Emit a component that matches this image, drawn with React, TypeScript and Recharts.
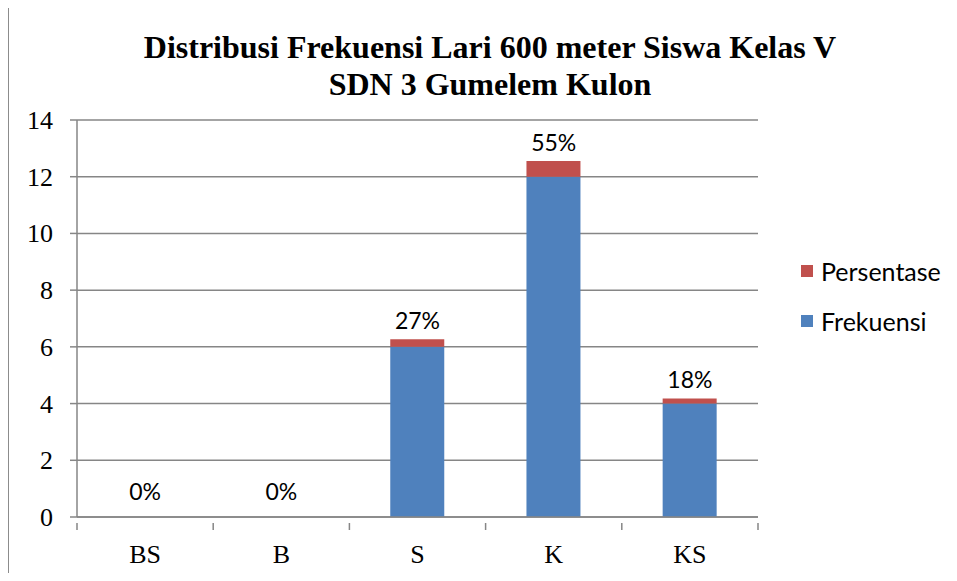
import { Bar, ComposedChart, CartesianGrid, LabelList, Legend, Line, XAxis, YAxis } from 'recharts';

const categories = ['BS', 'B', 'S', 'K', 'KS'];
const frekuensi = [0, 0, 6, 12, 4];
const persentase = [0, 0, 0.27, 0.55, 0.18];
const percentLabels = ['0%', '0%', '27%', '55%', '18%'];
const yTicks = [0, 2, 4, 6, 8, 10, 12, 14];

const data = categories.map((name, i) => ({
  name,
  frekuensi: frekuensi[i],
  persentase: persentase[i],
  total: frekuensi[i] + persentase[i],
  label: percentLabels[i],
}));

const BLUE = '#4F81BD';
const RED = '#C0504D';
const GRID = '#868686';
const SANS = "Lato, 'Open Sans', sans-serif";
const SERIF = "'Liberation Serif', serif";

const W = 940;
const H = 565;
const LEGEND_W = 150;
const M = { top: 112, right: 191 - LEGEND_W, bottom: 16, left: 8 };
const Y_AXIS_W = 60;
const BAND = (W - 8 - 191 - Y_AXIS_W) / categories.length;
const X_TICK_MARGIN = 18;

// x axis ticks sit on category boundaries, like Excel
function XTick(props: any) {
  const { x, y, payload, index } = props;
  const axisY = y - X_TICK_MARGIN;
  const left = payload.coordinate - BAND / 2;
  return (
    <g>
      <line x1={left} x2={left} y1={axisY} y2={axisY + 7} stroke={GRID} strokeWidth={1.5} />
      {index === categories.length - 1 && (
        <line x1={left + BAND} x2={left + BAND} y1={axisY} y2={axisY + 7} stroke={GRID} strokeWidth={1.5} />
      )}
      <text x={x} y={axisY + 40} textAnchor="middle" fill="#000" fontSize={26} fontFamily={SERIF}>
        {payload.value}
      </text>
    </g>
  );
}

function YTick(props: any) {
  const { x, y, payload } = props;
  return (
    <text x={x} y={y + 9} textAnchor="end" fill="#000" fontSize={26} fontFamily={SERIF}>
      {payload.value}
    </text>
  );
}

function PctLabel(props: any) {
  const { x, y, value, index } = props;
  const lift = data[index] && data[index].total === 0 ? 17 : 10;
  return (
    <text x={x} y={y - lift} textAnchor="middle" fill="#000" fontSize={23} fontFamily={SANS}>
      {value}
    </text>
  );
}

function LegendBox() {
  const items = [
    { name: 'Persentase', color: RED },
    { name: 'Frekuensi', color: BLUE },
  ];
  return (
    <div>
      {items.map((it) => (
        <div key={it.name} style={{ display: 'flex', alignItems: 'center', height: 50 }}>
          <span style={{ width: 12, height: 12, background: it.color, marginRight: 8 }} />
          <span style={{ fontSize: 25, fontFamily: SANS, color: '#000' }}>{it.name}</span>
        </div>
      ))}
    </div>
  );
}

export default function App() {
  return (
    <div
      style={{
        position: 'relative',
        width: W,
        height: H,
        marginTop: -1,
        borderLeft: '1.5px solid #8c8c8c',
        borderTop: '1.5px solid #8c8c8c',
        background: '#fff',
      }}
    >
      <div
        style={{
          position: 'absolute',
          left: 0,
          top: 21,
          width: 962,
          textAlign: 'center',
          fontFamily: SERIF,
          fontWeight: 'bold',
          fontSize: 32,
          lineHeight: '37px',
          color: '#000',
        }}
      >
        Distribusi Frekuensi Lari 600 meter Siswa Kelas V
        <br />
        SDN 3 Gumelem Kulon
      </div>
      <ComposedChart width={W} height={H} data={data} margin={M} barCategoryGap="30%">
        <CartesianGrid vertical={false} stroke={GRID} strokeWidth={1.5} />
        <XAxis
          dataKey="name"
          height={40}
          stroke={GRID}
          strokeWidth={1.5}
          tickLine={false}
          tickMargin={X_TICK_MARGIN}
          tick={<XTick />}
          interval={0}
        />
        <YAxis
          width={Y_AXIS_W}
          domain={[0, 14]}
          ticks={yTicks}
          stroke={GRID}
          strokeWidth={1.5}
          tickSize={7}
          tickMargin={17}
          tick={<YTick />}
          interval={0}
        />
        <Legend
          layout="vertical"
          align="right"
          verticalAlign="top"
          content={<LegendBox />}
          wrapperStyle={{ left: 792, top: 238, width: LEGEND_W }}
        />
        <Bar dataKey="frekuensi" stackId="a" fill={BLUE} isAnimationActive={false} name="Frekuensi" />
        <Bar dataKey="persentase" stackId="a" fill={RED} isAnimationActive={false} name="Persentase" />
        <Line
          dataKey="total"
          stroke="none"
          dot={false}
          activeDot={false}
          legendType="none"
          isAnimationActive={false}
        >
          <LabelList dataKey="label" content={<PctLabel />} />
        </Line>
      </ComposedChart>
    </div>
  );
}
